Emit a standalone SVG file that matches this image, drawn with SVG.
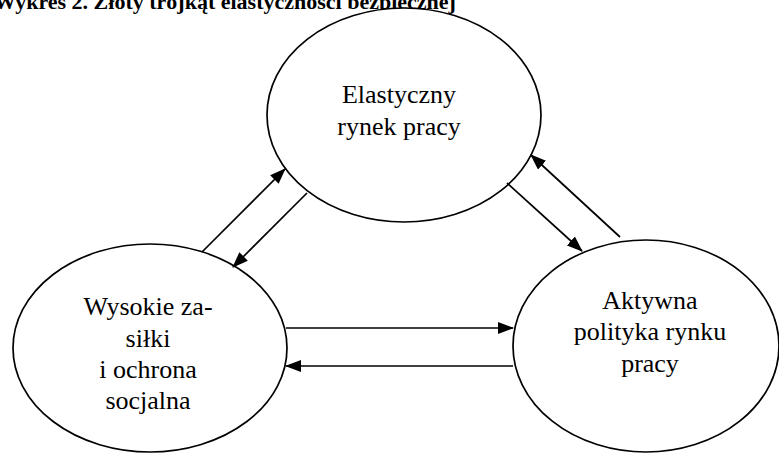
<svg xmlns="http://www.w3.org/2000/svg" width="779" height="453" viewBox="0 0 779 453">
<defs>
<marker id="ah" markerUnits="userSpaceOnUse" markerWidth="16" markerHeight="12" refX="15" refY="6" orient="auto">
<path d="M0,0 L16,6 L0,12 z" fill="#000"/>
</marker>
<style>
.node ellipse{fill:#fff;stroke:#000;stroke-width:1.7}
text{font-family:'Liberation Serif','DejaVu Serif',serif}
.lbl{font-size:26px;fill:#000;text-anchor:middle}
.title{font-size:22px;font-weight:bold;fill:#000}
#connectors line{stroke:#000;stroke-width:1.7;marker-end:url(#ah)}
</style>
</defs>
<rect width="779" height="453" fill="#fff"/>
<text class="title" x="-6" y="9" font-family="Liberation Serif, serif">Wykres 2. Złoty trójkąt elastyczności bezpiecznej</text>
<g id="node-elastyczny" class="node" font-family="Liberation Serif, serif">
<ellipse cx="404" cy="115" rx="137" ry="107"/>
<text class="lbl" x="399" y="103">Elastyczny</text>
<text class="lbl" x="399" y="135">rynek pracy</text>
</g>
<g id="node-wysokie" class="node" font-family="Liberation Serif, serif">
<ellipse cx="150" cy="348" rx="137" ry="104"/>
<text class="lbl" x="148" y="315">Wysokie za-</text>
<text class="lbl" x="148" y="347">siłki</text>
<text class="lbl" x="148" y="378">i ochrona</text>
<text class="lbl" x="148" y="409">socjalna</text>
</g>
<g id="node-aktywna" class="node" font-family="Liberation Serif, serif">
<ellipse cx="646" cy="346" rx="133" ry="106"/>
<text class="lbl" x="650" y="309">Aktywna</text>
<text class="lbl" x="650" y="340">polityka rynku</text>
<text class="lbl" x="650" y="372">pracy</text>
</g>
<g id="connectors">
<line x1="202" y1="252" x2="285" y2="169"/>
<line x1="307" y1="193" x2="233" y2="267"/>
<line x1="507" y1="183" x2="582" y2="251"/>
<line x1="620" y1="237" x2="531" y2="155"/>
<line x1="286" y1="328" x2="513" y2="328"/>
<line x1="513" y1="366" x2="286" y2="366"/>
</g>
</svg>
